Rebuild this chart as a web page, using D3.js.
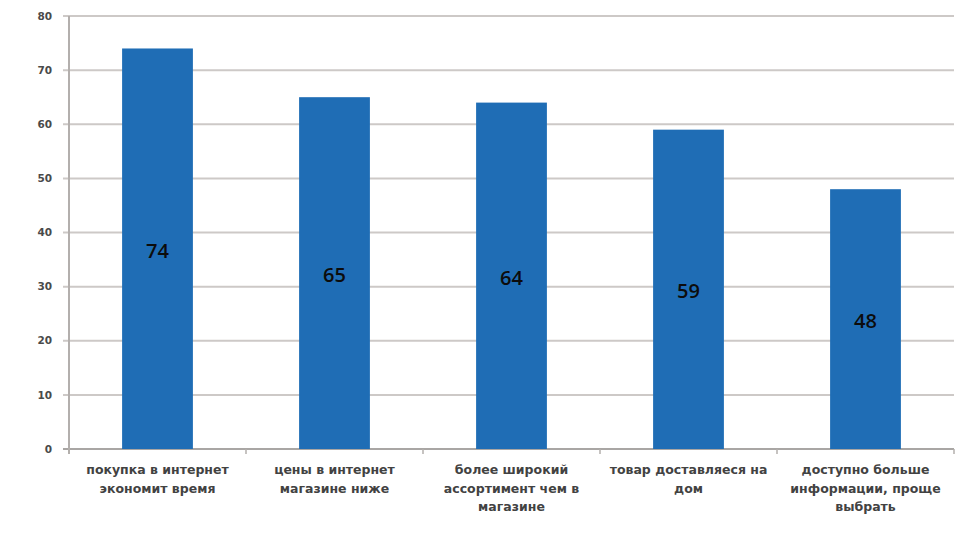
<!DOCTYPE html>
<html>
<head>
<meta charset="utf-8">
<script src="https://cdn.jsdelivr.net/npm/d3@7"></script>
<style>
  body { margin: 0; background: #fff; }
  svg { display: block; }
</style>
</head>
<body>
<svg id="chart" width="976" height="533"></svg>
<script>
// data
var categories = [
  'покупка в интернет\nэкономит время',
  'цены в интернет\nмагазине ниже',
  'более широкий\nассортимент чем в\nмагазине',
  'товар доставляеся на\nдом',
  'доступно больше\nинформации, проще\nвыбрать'
]
var values = [74, 65, 64, 59, 48]
var yTicks = [0, 10, 20, 30, 40, 50, 60, 70, 80]

var svg = d3.select('#chart')
  , plotLeft = 69
  , plotRight = 954
  , plotTop = 16
  , plotBottom = 449

var x = d3.scaleBand()
  .domain(categories)
  .range([plotLeft, plotRight])
  .paddingInner(0.6)
  .paddingOuter(0.3)

var y = d3.scaleLinear()
  .domain([0, 80])
  .range([plotBottom, plotTop])

// gridlines
svg.append('g')
  .selectAll('line')
  .data(yTicks)
  .enter()
  .append('line')
  .attr('x1', plotLeft - 6)
  .attr('x2', plotRight)
  .attr('y1', function (d) { return y(d) })
  .attr('y2', function (d) { return y(d) })
  .attr('stroke', function (d) { return d ? '#cdc9c7' : '#a9a6a4' })
  .attr('stroke-width', 2)

// y axis line
svg.append('line')
  .attr('x1', plotLeft).attr('x2', plotLeft)
  .attr('y1', plotTop).attr('y2', plotBottom + 5)
  .attr('stroke', '#b3afad')
  .attr('stroke-width', 2)

// y tick labels
svg.append('g')
  .selectAll('text')
  .data(yTicks)
  .enter()
  .append('text')
  .attr('x', 52)
  .attr('y', function (d) { return y(d) })
  .attr('dy', '0.35em')
  .attr('text-anchor', 'end')
  .attr('font-family', '"DejaVu Sans", sans-serif')
  .attr('font-weight', 'bold')
  .attr('font-size', 10.5)
  .attr('fill', '#4a4a4a')
  .text(function (d) { return d })

// x category ticks
var step = x.step()
svg.append('g')
  .selectAll('line')
  .data(d3.range(categories.length + 1))
  .enter()
  .append('line')
  .attr('x1', function (i) { return plotLeft + i * step })
  .attr('x2', function (i) { return plotLeft + i * step })
  .attr('y1', plotBottom)
  .attr('y2', plotBottom + 5)
  .attr('stroke', '#b3afad')
  .attr('stroke-width', 1.5)

// bars
svg.append('g')
  .selectAll('rect')
  .data(values)
  .enter()
  .append('rect')
  .attr('x', function (d, i) { return x(categories[i]) })
  .attr('y', function (d) { return y(d) })
  .attr('width', x.bandwidth())
  .attr('height', function (d) { return plotBottom - y(d) })
  .attr('fill', '#1f6db5')

// value labels in the middle of each bar
svg.append('g')
  .selectAll('text')
  .data(values)
  .enter()
  .append('text')
  .attr('x', function (d, i) { return x(categories[i]) + x.bandwidth() / 2 })
  .attr('y', function (d) { return (y(d) + plotBottom) / 2 })
  .attr('dy', '0.45em')
  .attr('text-anchor', 'middle')
  .attr('font-family', '"Open Sans", sans-serif')
  .attr('font-weight', 600)
  .attr('font-size', 20)
  .attr('fill', '#0c0c0c')
  .text(function (d) { return d })

// category labels, multiline
svg.append('g')
  .selectAll('text')
  .data(categories)
  .enter()
  .append('text')
  .attr('text-anchor', 'middle')
  .attr('font-family', '"DejaVu Sans", sans-serif')
  .attr('font-weight', 'bold')
  .attr('font-size', 12.5)
  .attr('fill', '#424242')
  .each(function (d) {
    var arr = d.split('\n')
      , cx = x(d) + x.bandwidth() / 2
    for (let i = 0; i < arr.length; i++) {
      d3.select(this)
        .append('tspan')
        .attr('x', cx)
        .attr('y', 474 + i * 18.5)
        .text(arr[i])
    }
  })
</script>
</body>
</html>
